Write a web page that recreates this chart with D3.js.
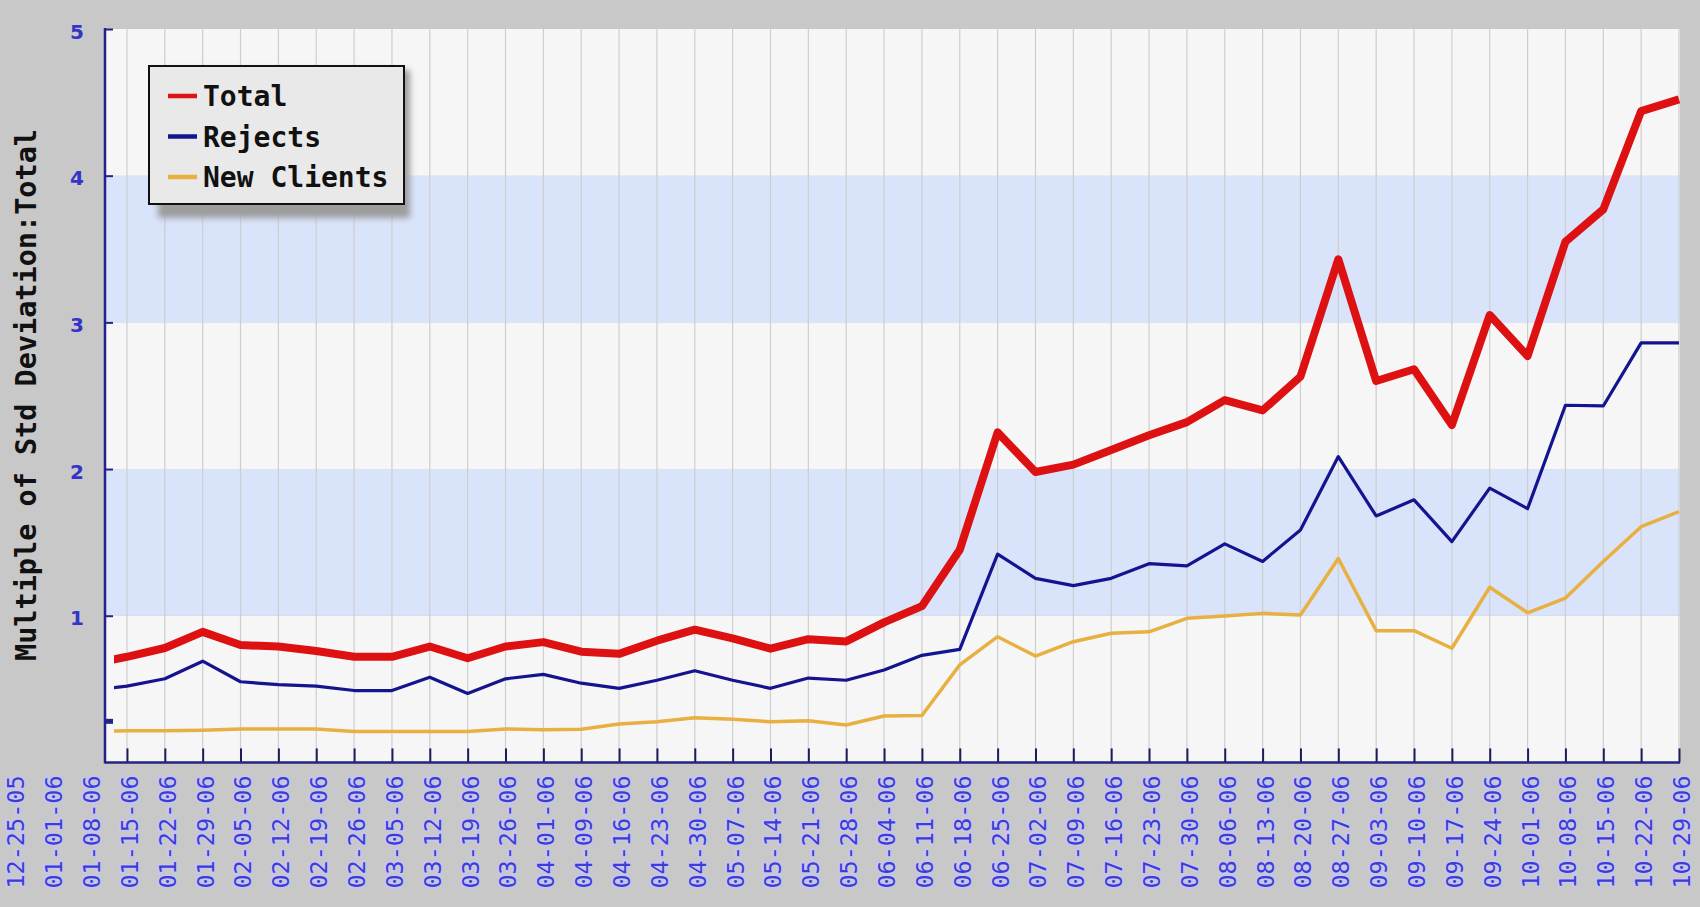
<!DOCTYPE html>
<html>
<head>
<meta charset="utf-8">
<script src="https://cdn.jsdelivr.net/npm/d3@7"></script>
<style>
    body { margin: 0; background: #c8c8c8; }
    svg { display: block; }
</style>
</head>
<body>
<svg id="chart"></svg>
<script>
// week labels on the x axis (first three sit left of the plot, as in the original)
const dateLabels = [
    "12-25-05", "01-01-06", "01-08-06", "01-15-06", "01-22-06", "01-29-06",
    "02-05-06", "02-12-06", "02-19-06", "02-26-06", "03-05-06", "03-12-06",
    "03-19-06", "03-26-06", "04-01-06", "04-09-06", "04-16-06", "04-23-06",
    "04-30-06", "05-07-06", "05-14-06", "05-21-06", "05-28-06", "06-04-06",
    "06-11-06", "06-18-06", "06-25-06", "07-02-06", "07-09-06", "07-16-06",
    "07-23-06", "07-30-06", "08-06-06", "08-13-06", "08-20-06", "08-27-06",
    "09-03-06", "09-10-06", "09-17-06", "09-24-06", "10-01-06", "10-08-06",
    "10-15-06", "10-22-06", "10-29-06"
];

// the series run from 01-08-06 to 10-29-06
const seriesDates = dateLabels.slice(2);

const totalValues = [
    0.67, 0.72, 0.78, 0.89, 0.80, 0.79, 0.76, 0.72, 0.72, 0.79, 0.71, 0.79,
    0.82, 0.755, 0.74, 0.83, 0.905, 0.845, 0.775, 0.84, 0.825, 0.955, 1.065,
    1.45, 2.25, 1.98, 2.03, 2.13, 2.23, 2.32, 2.47, 2.40, 2.63, 3.43,
    2.60, 2.68, 2.30, 3.05, 2.77, 3.55, 3.77, 4.44, 4.52
];

const rejectsValues = [
    0.49, 0.52, 0.57, 0.69, 0.55, 0.53, 0.52, 0.49, 0.49, 0.58, 0.47, 0.57,
    0.60, 0.54, 0.505, 0.56, 0.625, 0.56, 0.505, 0.575, 0.56, 0.63, 0.73,
    0.77, 1.42, 1.255, 1.205, 1.255, 1.355, 1.34, 1.49, 1.37, 1.585, 2.085,
    1.68, 1.79, 1.505, 1.87, 1.73, 2.435, 2.43, 2.86, 2.86
];

const newClientValues = [
    0.21, 0.215, 0.215, 0.22, 0.228, 0.228, 0.228, 0.21, 0.21, 0.21, 0.21, 0.228,
    0.222, 0.226, 0.262, 0.277, 0.305, 0.294, 0.277, 0.284, 0.255, 0.316, 0.32,
    0.665, 0.857, 0.725, 0.823, 0.88, 0.89, 0.982, 0.998, 1.016, 1.005, 1.39,
    0.898, 0.898, 0.778, 1.194, 1.02, 1.12, 1.37, 1.607, 1.709
];

const seriesNames = ["Total", "Rejects", "New Clients"];
const yTickValues = [1, 2, 3, 4, 5];
const bandEdges = [0, 1, 2, 3, 4, 5];
const markerValue = 0.28;
const yTitle = "Multiple of Std Deviation:Total";

//layout
const width = 1700;
const height = 907;
const plotLeft = 105;
const plotRight = 1680;
const plotTop = 29;
const plotBottom = 762.4;

const svg = d3.select("#chart")
    .attr("width", width)
    .attr("height", height)
    .style("background", "#c8c8c8");

const xScale = d3.scalePoint()
    .domain(dateLabels)
    .range([13.4, 1679]);

const yScale = d3.scaleLinear()
    .domain([0, 5])
    .range([plotBottom, plotTop]);

//bands: white / light blue
svg.append("g")
    .selectAll("rect")
    .data(d3.pairs(bandEdges))
    .enter()
    .append("rect")
    .attr("x", plotLeft)
    .attr("width", plotRight - plotLeft)
    .attr("y", d => yScale(d[1]))
    .attr("height", d => yScale(d[0]) - yScale(d[1]))
    .style("fill", (d, i) => i % 2 === 0 ? "#f6f6f6" : "#d9e3fa");

//vertical grid
svg.append("g")
    .selectAll("line")
    .data(seriesDates.slice(1))
    .enter()
    .append("line")
    .attr("x1", d => xScale(d))
    .attr("x2", d => xScale(d))
    .attr("y1", plotTop)
    .attr("y2", plotBottom)
    .style("stroke", "#cecece")
    .style("stroke-width", 1.2);

//clip so the lines start just inside the axis
svg.append("defs").append("clipPath")
    .attr("id", "plot-clip")
    .append("rect")
    .attr("x", plotLeft + 9)
    .attr("y", 0)
    .attr("width", width - plotLeft - 9)
    .attr("height", height);

const line = d3.line()
    .x((d, i) => xScale(seriesDates[i]))
    .y(d => yScale(d));

const seriesList = [
    { values: newClientValues, color: "#e8b040", width: 3.5 },
    { values: rejectsValues, color: "#14148f", width: 3.2 },
    { values: totalValues, color: "#dd1111", width: 8 }
];

const linesG = svg.append("g").attr("clip-path", "url(#plot-clip)");
seriesList.forEach(s => {
    linesG.append("path")
        .datum(s.values)
        .attr("d", line)
        .style("fill", "none")
        .style("stroke", s.color)
        .style("stroke-width", s.width)
        .style("stroke-linejoin", "round");
});

//y axis: inward ticks
const yTicks = d3.axisRight(yScale)
    .tickValues(yTickValues)
    .tickSize(8)
    .tickFormat("");
const yTickG = svg.append("g").attr("transform", `translate(${plotLeft},0)`);
yTicks(yTickG);
yTickG.select(".domain").remove();
yTickG.selectAll("line").style("stroke", "#23238a").style("stroke-width", 2);

//y labels
const yLabels = d3.axisLeft(yScale)
    .tickValues(yTickValues)
    .tickSize(0)
    .tickPadding(21)
    .tickFormat(d3.format("d"));
const yLabelG = svg.append("g").attr("transform", `translate(${plotLeft},0)`);
yLabels(yLabelG);
yLabelG.select(".domain").remove();
yLabelG.selectAll("text")
    .attr("dy", "0.45em")
    .style("font-family", "'DejaVu Sans', Verdana, sans-serif")
    .style("font-weight", "bold")
    .style("font-size", "20px")
    .style("fill", "#3434c8");

//the small marker on the y axis
svg.append("rect")
    .attr("x", plotLeft)
    .attr("y", yScale(markerValue) - 2.5)
    .attr("width", 8)
    .attr("height", 5)
    .style("fill", "#23238a");

//x axis: upward ticks inside the plot
const xTicks = d3.axisTop(xScale)
    .tickValues(seriesDates.slice(1))
    .tickSize(14)
    .tickFormat("");
const xTickG = svg.append("g").attr("transform", `translate(0,${plotBottom})`);
xTicks(xTickG);
xTickG.select(".domain").remove();
xTickG.selectAll("line").style("stroke", "#1c1c5a").style("stroke-width", 2);

//x labels, rotated
const xLabels = d3.axisBottom(xScale)
    .tickSize(0)
    .tickValues(dateLabels);
const xLabelG = svg.append("g").attr("transform", `translate(0,${plotBottom})`);
xLabels(xLabelG);
xLabelG.select(".domain").remove();
xLabelG.selectAll("text")
    .attr("transform", "rotate(-90)")
    .attr("text-anchor", "end")
    .attr("x", -13)
    .attr("y", 2)
    .attr("dy", "0.36em")
    .style("font-family", "'DejaVu Sans Mono', monospace")
    .style("font-size", "23.5px")
    .style("fill", "#3c3cd6")
    .style("stroke", "#c6c6f0")
    .style("stroke-width", 3)
    .style("paint-order", "stroke");

//axis lines
svg.append("line")
    .attr("x1", plotLeft).attr("x2", plotLeft)
    .attr("y1", plotTop - 1).attr("y2", plotBottom + 1)
    .style("stroke", "#23238a")
    .style("stroke-width", 2.5);

svg.append("line")
    .attr("x1", plotLeft).attr("x2", plotRight)
    .attr("y1", plotBottom).attr("y2", plotBottom)
    .style("stroke", "#23238a")
    .style("stroke-width", 2.5);

//y title
svg.append("text")
    .attr("transform", `translate(36,${(128 + 662) / 2}) rotate(-90)`)
    .attr("text-anchor", "middle")
    .style("font-family", "'DejaVu Sans Mono', monospace")
    .style("font-weight", "bold")
    .style("font-size", "28.5px")
    .style("fill", "#111")
    .text(yTitle);

//legend
const legendColors = ["#dd1111", "#14148f", "#e8b040"];
const legend = svg.append("g");

svg.select("defs").append("filter")
    .attr("id", "blur")
    .append("feGaussianBlur")
    .attr("stdDeviation", 3);

legend.append("rect")
    .attr("x", 158)
    .attr("y", 70)
    .attr("width", 252)
    .attr("height", 148)
    .style("fill", "#9c9c9c")
    .attr("filter", "url(#blur)");

legend.append("rect")
    .attr("x", 149)
    .attr("y", 66)
    .attr("width", 255)
    .attr("height", 138)
    .style("fill", "#e9e9e9")
    .style("stroke", "#111")
    .style("stroke-width", 2);

const legendItems = legend.selectAll("g.item")
    .data(seriesNames)
    .enter()
    .append("g")
    .attr("class", "item")
    .attr("transform", (d, i) => `translate(168,${96 + i * 40.5})`);

legendItems.append("line")
    .attr("x1", 0).attr("x2", 29)
    .attr("y1", 0).attr("y2", 0)
    .style("stroke", (d, i) => legendColors[i])
    .style("stroke-width", 4.5);

legendItems.append("text")
    .attr("x", 35)
    .attr("y", 10)
    .style("font-family", "'DejaVu Sans Mono', monospace")
    .style("font-weight", "bold")
    .style("font-size", "28px")
    .style("fill", "#111")
    .text(d => d);
</script>
</body>
</html>
